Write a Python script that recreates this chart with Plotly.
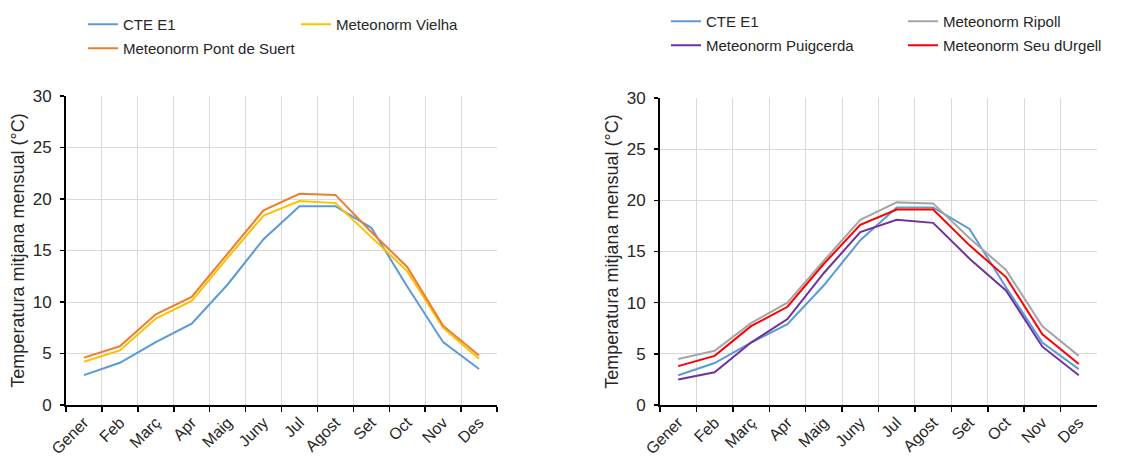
import plotly.graph_objects as go

# Monthly mean temperatures (°C)
months = ["Gener", "Feb", "Març", "Apr", "Maig", "Juny",
          "Jul", "Agost", "Set", "Oct", "Nov", "Des"]

cte_e1 = [2.9, 4.1, 6.1, 7.9, 11.7, 16.1, 19.3, 19.3, 17.2, 11.5, 6.1, 3.5]

vielha = [4.2, 5.3, 8.4, 10.1, 14.3, 18.4, 19.8, 19.6, 16.3, 13.0, 7.5, 4.5]
pont_de_suert = [4.6, 5.7, 8.8, 10.5, 14.7, 18.9, 20.5, 20.4, 16.8, 13.4, 7.7, 4.8]

ripoll = [4.5, 5.3, 8.0, 10.0, 14.1, 18.1, 19.8, 19.7, 16.3, 13.2, 7.7, 4.8]
puigcerda = [2.5, 3.2, 6.1, 8.4, 12.9, 16.9, 18.1, 17.8, 14.3, 11.2, 5.7, 2.9]
seu_durgell = [3.8, 4.8, 7.7, 9.6, 13.8, 17.6, 19.1, 19.1, 15.6, 12.5, 6.9, 4.0]

y_ticks = [0, 5, 10, 15, 20, 25, 30]

FONT = "Liberation Sans, Arial, sans-serif"
TEXT = "#262626"
GRID = "#d9d9d9"

W, H = 1136, 459

fig = go.Figure()


def add_line(name, values, color, xa, ya, legend, group):
    fig.add_trace(go.Scatter(
        x=months, y=values, name=name, mode="lines",
        line=dict(color=color, width=2),
        xaxis=xa, yaxis=ya, legend=legend, legendgroup=group,
        hoverinfo="skip",
    ))


# Left panel
add_line("CTE E1", cte_e1, "#5b9bd5", "x", "y", "legend", "a1")
add_line("Meteonorm Vielha", vielha, "#ffc000", "x", "y", "legend2", "a2")
add_line("Meteonorm Pont de Suert", pont_de_suert, "#ed7d31", "x", "y", "legend", "a3")

# Right panel
add_line("CTE E1", cte_e1, "#5b9bd5", "x2", "y2", "legend3", "b1")
add_line("Meteonorm Ripoll", ripoll, "#a5a5a5", "x2", "y2", "legend4", "b2")
add_line("Meteonorm Puigcerda", puigcerda, "#7030a0", "x2", "y2", "legend3", "b3")
add_line("Meteonorm Seu dUrgell", seu_durgell, "#ff0000", "x2", "y2", "legend4", "b4")


def xaxis_style(domain, anchor):
    return dict(
        domain=domain, anchor=anchor, type="category",
        categoryorder="array", categoryarray=months,
        range=[-0.5, 11.5], tickson="boundaries",
        ticks="outside", ticklen=5, tickwidth=1.5, tickcolor="black",
        showline=True, linecolor="black", linewidth=2,
        showgrid=True, gridcolor=GRID, gridwidth=1,
        tickangle=-45, tickfont=dict(family=FONT, size=16, color=TEXT),
        zeroline=False, fixedrange=True,
    )


def yaxis_style(domain, anchor):
    return dict(
        domain=domain, anchor=anchor, range=[0, 30],
        tickvals=y_ticks, ticktext=[str(v) for v in y_ticks],
        ticks="outside", ticklen=4, tickwidth=1.5, tickcolor="black",
        ticklabelstandoff=5,
        showline=True, linecolor="black", linewidth=2,
        showgrid=True, gridcolor=GRID, gridwidth=1,
        zeroline=False, fixedrange=True,
        tickfont=dict(family=FONT, size=17, color=TEXT),
        title=dict(text="Temperatura mitjana mensual (°C)",
                   font=dict(family=FONT, size=18, color=TEXT), standoff=3),
    )


def legend_style(x_px, y_px):
    return dict(
        x=x_px / W, y=1 - y_px / H, xanchor="left", yanchor="top",
        orientation="v", bgcolor="rgba(0,0,0,0)", borderwidth=0,
        font=dict(family=FONT, size=15, color=TEXT),
        tracegroupgap=1.5, itemwidth=30,
    )


fig.update_layout(
    width=W, height=H,
    margin=dict(l=0, r=0, t=0, b=0, autoexpand=False),
    paper_bgcolor="white", plot_bgcolor="white",
    font=dict(family=FONT, color=TEXT),
    showlegend=True,
    xaxis=xaxis_style([66 / W, 497 / W], "y"),
    yaxis=yaxis_style([1 - 405 / H, 1 - 96 / H], "x"),
    xaxis2=xaxis_style([660 / W, 1097 / W], "y2"),
    yaxis2=yaxis_style([1 - 405 / H, 1 - 98 / H], "x2"),
    legend=legend_style(83, 8),
    legend2=legend_style(296, 8),
    legend3=legend_style(666, 5),
    legend4=legend_style(903, 5),
)

fig.write_html("out.html", config={"displayModeBar": False, "staticPlot": True})
